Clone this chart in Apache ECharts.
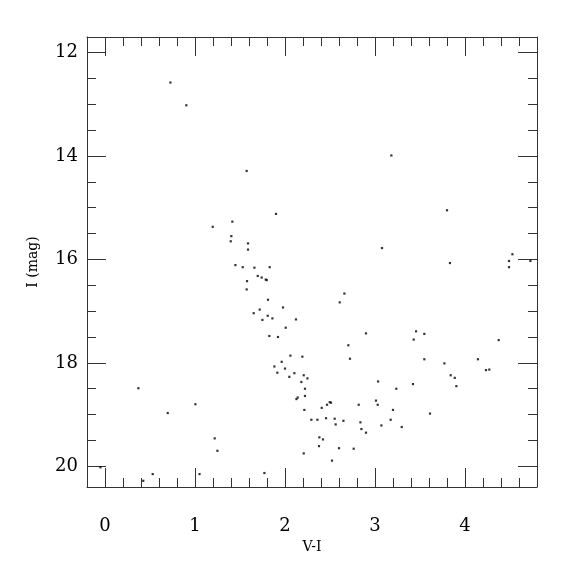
<!DOCTYPE html>
<html>
<head>
<meta charset="utf-8">
<script src="https://cdn.jsdelivr.net/npm/echarts@6/dist/echarts.min.js"></script>
<style>html,body{margin:0;padding:0;background:#fff}#c{width:575px;height:575px}</style>
</head>
<body>
<div id="c"></div>
<script>
// V-I colour index
var vi = [0.727,0.904,1.574,1.90,1.415,1.197,1.404,1.397,1.589,1.589,
3.182,3.80,3.078,4.527,1.449,1.53,1.66,1.83,1.697,1.741,
1.786,1.797,1.578,1.574,1.811,1.978,1.719,1.652,1.808,1.86,
1.749,2.122,2.008,1.826,1.922,2.06,2.193,1.963,1.882,2.0,
1.915,2.104,2.208,2.249,2.048,2.182,2.222,2.141,2.127,2.222,
2.215,0.371,1.004,0.697,1.219,1.249,2.208,-0.051,0.53,0.425,
1.05,1.771,3.833,4.489,4.489,4.727,2.66,2.608,2.90,2.704,
2.722,3.456,3.548,3.43,3.548,4.374,3.771,4.144,4.233,4.27,
3.841,3.886,3.904,3.422,3.034,3.237,3.011,3.03,3.2,3.611,
2.819,2.408,2.467,2.497,2.511,2.293,2.36,2.456,2.552,2.649,
2.563,2.838,2.849,2.90,3.071,3.174,3.297,2.382,2.422,2.378,
2.6,2.763,2.522];
// I magnitude
var imag = [12.58,13.02,14.29,15.12,15.27,15.37,15.55,15.65,15.69,15.81,
13.99,15.05,15.78,15.90,16.11,16.15,16.16,16.15,16.32,16.35,
16.39,16.40,16.42,16.58,16.78,16.93,16.97,17.04,17.09,17.14,
17.17,17.16,17.32,17.48,17.50,17.86,17.88,17.98,18.07,18.11,
18.19,18.20,18.24,18.30,18.27,18.37,18.50,18.67,18.70,18.64,
18.91,18.49,18.80,18.97,19.46,19.70,19.75,20.02,20.15,20.28,
20.15,20.13,16.07,16.03,16.15,16.03,16.66,16.83,17.43,17.66,
17.92,17.39,17.44,17.55,17.93,17.56,18.01,17.93,18.14,18.13,
18.24,18.29,18.45,18.41,18.36,18.50,18.73,18.81,18.91,18.98,
18.81,18.87,18.81,18.76,18.77,19.10,19.10,19.07,19.08,19.12,
19.19,19.15,19.28,19.35,19.21,19.10,19.24,19.44,19.48,19.61,
19.65,19.66,19.89];
var xMajor = [0,1,2,3,4];
var xMinor = [0.2,0.4,0.6,0.8,1.2,1.4,1.6,1.8,2.2,2.4,2.6,2.8,3.2,3.4,3.6,3.8,4.2,4.4,4.6];
var yMajor = [12,14,16,18,20];
var yMinor = [12.5,13,13.5,14.5,15,15.5,16.5,17,17.5,18.5,19,19.5];
var xRange = [-0.2, 4.8];
var yRange = [11.7, 20.4];

var FONT = 'DejaVu Serif';
var LINE = '#333';
var data = vi.map(function(v,i){return [v, imag[i]];});

function xAx(pos, ticks, len, showLine, labels) {
  return {
    type:'value', position:pos, min:xRange[0], max:xRange[1], gridIndex:0,
    axisLine:{show:showLine, onZero:false, lineStyle:{color:LINE, width:1}},
    axisTick:{show:true, inside:true, length:len, customValues:ticks, lineStyle:{color:LINE,width:1}},
    axisLabel: labels ? {show:true, customValues:ticks, margin:30, color:'#000', fontFamily:FONT, fontSize:18} : {show:false},
    splitLine:{show:false},
    name: labels ? 'V-I' : '', nameLocation:'middle', nameGap:45,
    nameTextStyle:{color:'#000', fontFamily:FONT, fontSize:14}
  };
}
function yAx(pos, ticks, len, showLine, labels) {
  return {
    type:'value', position:pos, inverse:true, min:yRange[0], max:yRange[1], gridIndex:0,
    axisLine:{show:showLine, onZero:false, lineStyle:{color:LINE, width:1}},
    axisTick:{show:true, inside:true, length:len, customValues:ticks, lineStyle:{color:LINE,width:1}},
    axisLabel: labels ? {show:true, customValues:ticks, margin:9, color:'#000', fontFamily:FONT, fontSize:18} : {show:false},
    splitLine:{show:false},
    name: labels ? 'I (mag)' : '', nameLocation:'middle', nameGap:47, nameRotate:90,
    nameTextStyle:{color:'#000', fontFamily:FONT, fontSize:14}
  };
}

var chart = echarts.init(document.getElementById('c'), null, {renderer:'canvas'});
chart.setOption({
  animation:false,
  backgroundColor:'#fff',
  grid:{left:87, top:37, right:38, bottom:88},
  xAxis:[
    xAx('bottom', xMajor, 19, true, true),
    xAx('bottom', xMinor, 9, false, false),
    xAx('top', xMajor, 19, true, false),
    xAx('top', xMinor, 9, false, false)
  ],
  yAxis:[
    yAx('left', yMajor, 19, true, true),
    yAx('left', yMinor, 9, false, false),
    yAx('right', yMajor, 19, true, false),
    yAx('right', yMinor, 9, false, false)
  ],
  series:[{
    type:'scatter', xAxisIndex:0, yAxisIndex:0,
    symbol:'rect', symbolSize:2.2,
    itemStyle:{color:'#000'},
    data:data
  }]
});
</script>
</body>
</html>
